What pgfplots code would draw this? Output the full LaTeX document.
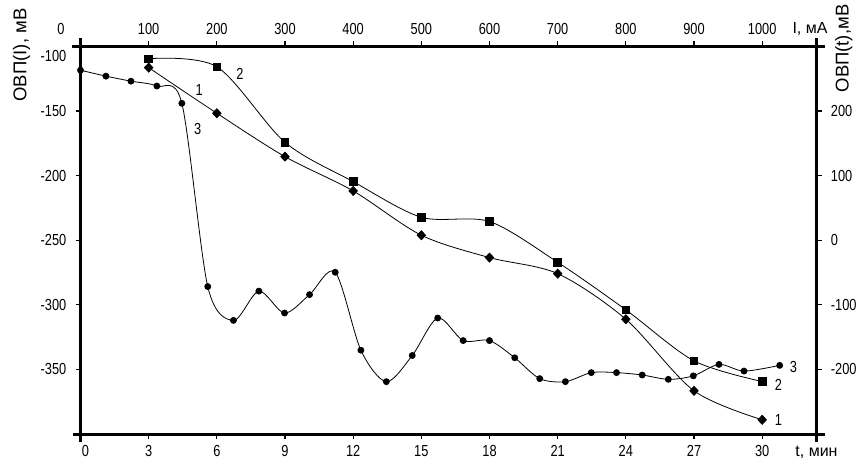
\documentclass[border=0pt]{standalone}
\usepackage{pgfplots}
\pgfplotsset{compat=1.18}
\usepackage{fontspec}
\setmainfont{Liberation Sans}
\newfontfamily\tickfont{Liberation Sans}[FakeStretch=0.8]
\begin{document}
\begin{tikzpicture}
\useasboundingbox (0,0) rectangle (856pt,461pt);
\pgfplotsset{
  common/.style={
    at={(80.5pt,27pt)}, anchor=south west,
    scale only axis, width=736.2pt, height=387.7pt,
    clip=false,
    tick align=outside, major tick length=5pt,
    tick style={line width=1.2pt, black},
    axis line style={line width=3pt, shorten <=-8pt, shorten >=-8pt},
    /pgf/number format/assume math mode=true,
    /pgf/number format/1000 sep={},
    every tick label/.append style={font=\tickfont\fontsize{16}{16}\selectfont, inner sep=0pt},
  }
}
\begin{axis}[common,
  xmin=0, xmax=1080, ymin=-400, ymax=-100,
  axis x line*=top, axis y line*=left,
  xtick={100,200,...,1000},
  ytick={-150,-200,...,-350},
  extra y ticks={-100},
  extra y tick style={yticklabel style={yshift=-10pt}},
  xticklabel style={yshift=6pt},
  yticklabel style={xshift=-9pt},
]
\addplot[black, line width=0.8pt, smooth, tension=0.5, mark=diamond*, mark size=4.5pt, mark options={solid, xscale=1.25}] coordinates {
(100,-116.5) (200,-151.8) (300,-185.4) (400,-211.9) (500,-246.2)
(600,-263.5) (700,-275.9) (800,-311.2) (900,-366.6) (1000,-389.0)};
\addplot[black, line width=0.8pt, smooth, tension=0.5, mark=square*, mark size=3.8pt] coordinates {
(100,-109.6) (200,-115.8) (300,-174.3) (400,-204.7) (500,-232.3)
(600,-235.6) (700,-267.1) (800,-303.9) (900,-343.4) (1000,-359.4)};
\node[font=\tickfont\fontsize{16}{16}\selectfont] at (axis cs:174,-133.8) {1};
\node[font=\tickfont\fontsize{16}{16}\selectfont] at (axis cs:234,-121.4) {2};
\node[font=\tickfont\fontsize{16}{16}\selectfont] at (axis cs:172,-164) {3};
\node[font=\tickfont\fontsize{16}{16}\selectfont] at (axis cs:1046,-347.8) {3};
\node[font=\tickfont\fontsize{16}{16}\selectfont] at (axis cs:1024,-362) {2};
\node[font=\tickfont\fontsize{16}{16}\selectfont] at (axis cs:1024,-389) {1};
\end{axis}
\begin{axis}[common,
  xmin=0, xmax=32.4, ymin=-300, ymax=300,
  axis x line*=bottom, axis y line*=right,
  xtick={3,6,...,30},
  extra x ticks={0},
  extra x tick style={xticklabel style={xshift=5pt}},
  ytick={-200,-100,...,200},
  xticklabel style={yshift=-6pt},
  yticklabel style={xshift=9pt},
]
\addplot[black, line width=0.8pt, smooth, tension=0.5, mark=*, mark size=3pt] coordinates {
(0,263) (1.12,253.8) (2.22,246) (3.36,238.5) (4.46,211.8) (5.60,-71.8)
(6.73,-124.2) (7.85,-78.9) (8.98,-112.8) (10.08,-84.3) (11.21,-49.7)
(12.34,-170.3) (13.46,-219) (14.6,-178.5) (15.72,-120.5) (16.84,-155.4)
(18.0,-155.4) (19.11,-182) (20.21,-214.3) (21.34,-219) (22.48,-205)
(23.59,-205) (24.72,-208.7) (25.87,-215.4) (26.97,-210) (28.1,-192.3)
(29.2,-202.6) (30.77,-193.8)};
\end{axis}
\node[rotate=90, font=\fontsize{18.5}{20}\selectfont] at (21.7pt,406pt) {ОВП(I), мВ};
\node[rotate=90, font=\fontsize{18.5}{20}\selectfont] at (843.7pt,412.5pt) {ОВП(t),мВ};
\node[anchor=base, font=\fontsize{16}{16}\selectfont, inner sep=0pt] at (810pt,427.7pt) {I, мА};
\node[anchor=base, font=\fontsize{16}{16}\selectfont, inner sep=0pt] at (816.5pt,4.3pt) {t, мин};
\node[anchor=base, font=\tickfont\fontsize{16}{16}\selectfont, inner sep=0pt] at (61pt,426pt) {0};
\end{tikzpicture}
\end{document}
